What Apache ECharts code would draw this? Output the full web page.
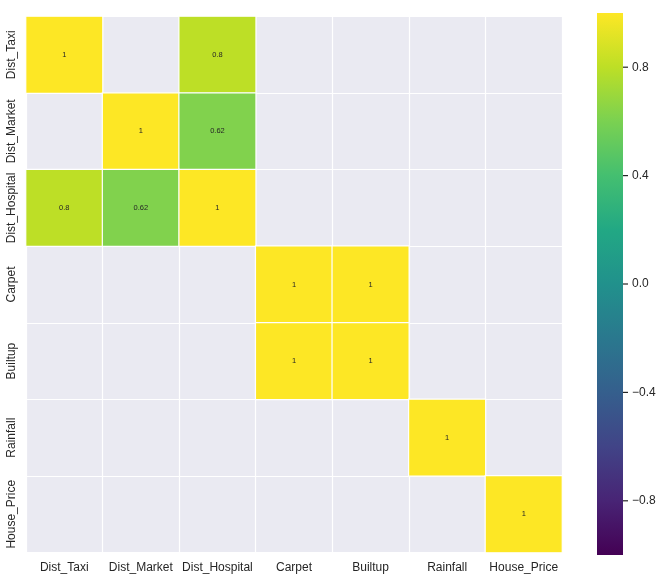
<!DOCTYPE html>
<html>
<head>
<meta charset="utf-8">
<script src="https://cdn.jsdelivr.net/npm/echarts@6/dist/echarts.min.js"></script>
<style>html,body{margin:0;padding:0;background:#fff;}#c{width:661px;height:580px;}</style>
</head>
<body>
<div id="c"></div>
<script>
const categories = ['Dist_Taxi', 'Dist_Market', 'Dist_Hospital', 'Carpet', 'Builtup', 'Rainfall', 'House_Price'];
// correlation matrix rows (null = masked / not shown)
const rowDistTaxi     = [1, null, 0.8, null, null, null, null];
const rowDistMarket   = [null, 1, 0.62, null, null, null, null];
const rowDistHospital = [0.8, 0.62, 1, null, null, null, null];
const rowCarpet       = [null, null, null, 1, 1, null, null];
const rowBuiltup      = [null, null, null, 1, 1, null, null];
const rowRainfall     = [null, null, null, null, null, 1, null];
const rowHousePrice   = [null, null, null, null, null, null, 1];
const colorbarTicks = [-0.8, -0.4, 0.0, 0.4, 0.8];
const viridis = ['#440154','#482475','#414487','#355f8d','#2a788e','#21918c','#22a884','#44bf70','#7ad151','#bddf26','#fde725'];

const matrix = [rowDistTaxi, rowDistMarket, rowDistHospital, rowCarpet, rowBuiltup, rowRainfall, rowHousePrice];
const data = [];
matrix.forEach((row, r) => row.forEach((v, c) => { if (v !== null) data.push([c, r, v]); }));

const txt = '#262626';
const font = 'Liberation Sans, Arial, sans-serif';
const cb = { left: 597, top: 13, width: 26, height: 542 };
const chart = echarts.init(document.getElementById('c'));
chart.setOption({
  animation: false,
  backgroundColor: '#ffffff',
  textStyle: { fontFamily: font },
  grid: [
    { left: 26, top: 16.5, width: 536, height: 536, show: true, backgroundColor: '#EAEAF2', borderWidth: 0 },
    { left: cb.left, top: cb.top, width: cb.width, height: cb.height, show: false }
  ],
  xAxis: [
    { type: 'category', data: categories, gridIndex: 0,
      axisLine: { show: false }, axisTick: { show: false },
      axisLabel: { color: txt, fontSize: 12, margin: 9, interval: 0, fontFamily: font },
      splitLine: { show: true, interval: 0, lineStyle: { color: '#ffffff', width: 1.2 } } },
    { type: 'value', gridIndex: 1, min: 0, max: 1, show: false }
  ],
  yAxis: [
    { type: 'category', data: categories, gridIndex: 0, inverse: true,
      axisLine: { show: false }, axisTick: { show: false },
      axisLabel: { color: txt, fontSize: 12, margin: 8, rotate: 90, interval: 0, fontFamily: font },
      splitLine: { show: true, interval: 0, lineStyle: { color: '#ffffff', width: 1.2 } } },
    { type: 'value', gridIndex: 1, position: 'right', min: -1, max: 1,
      axisLine: { show: false },
      splitLine: { show: false },
      axisTick: { show: false },
      axisLabel: { show: true, color: txt, fontSize: 12, margin: 0, fontFamily: font,
        customValues: colorbarTicks,
        formatter: v => '{t|}{s|}' + (v < 0 ? '\u2212' : '') + Math.abs(v).toFixed(1),
        rich: {
          t: { width: 5, height: 1.2, backgroundColor: txt, verticalAlign: 'middle' },
          s: { width: 4, height: 1 }
        } } }
  ],
  visualMap: {
    type: 'continuous', min: -1, max: 1, calculable: false, seriesIndex: 0, show: false,
    inRange: { color: viridis }
  },
  graphic: [{
    type: 'rect', left: cb.left, top: cb.top, z: 10,
    shape: { width: cb.width, height: cb.height },
    style: { fill: new echarts.graphic.LinearGradient(0, 1, 0, 0,
      viridis.map((c, i) => ({ offset: i / (viridis.length - 1), color: c }))) }
  }],
  series: [{
    type: 'heatmap', xAxisIndex: 0, yAxisIndex: 0, data: data,
    itemStyle: { borderColor: '#ffffff', borderWidth: 1.2 },
    label: { show: true, color: txt, fontSize: 7.5, fontFamily: font,
      formatter: p => String(p.value[2]) },
    emphasis: { disabled: true }
  }, {
    type: 'scatter', xAxisIndex: 1, yAxisIndex: 1, data: [], silent: true
  }]
});
</script>
</body>
</html>
